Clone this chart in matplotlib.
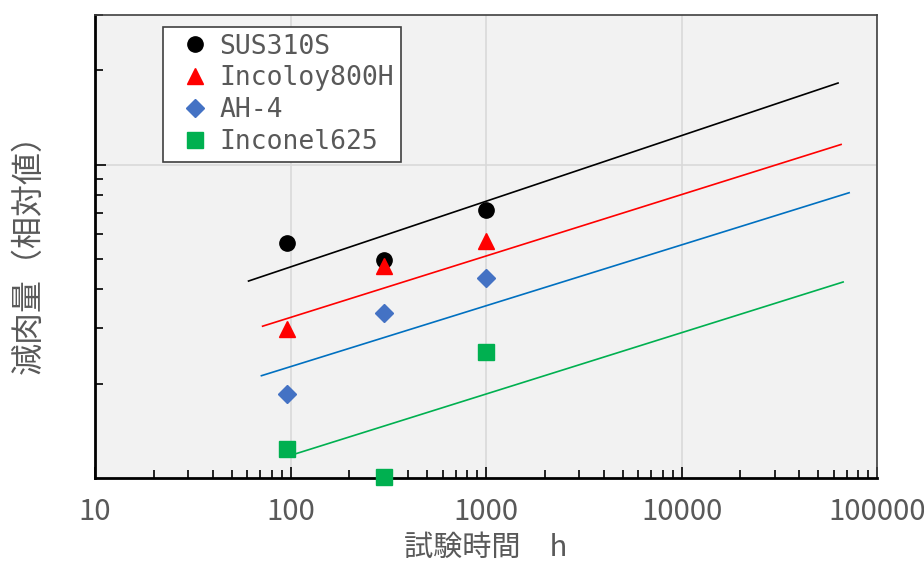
import matplotlib
matplotlib.use("Agg")
import matplotlib.pyplot as plt
from matplotlib.ticker import LogLocator, NullFormatter, FixedLocator

plt.rcParams["font.family"] = ["Noto Sans CJK JP", "DejaVu Sans"]

# measured points (test time h, relative wastage)
hours = [96, 300, 1000]
sus310s = [0.562, 0.496, 0.717]
incoloy800h = [0.298, 0.475, 0.571]
ah4 = [0.186, 0.336, 0.434]
inconel625 = [0.124, 0.1007, 0.253]

# fitted lines: (x start, x end), (y start, y end)
sus310s_fit_x = [61, 63200]
sus310s_fit_y = [0.425, 1.82]
incoloy800h_fit_x = [72, 65500]
incoloy800h_fit_y = [0.305, 1.159]
ah4_fit_x = [71, 72000]
ah4_fit_y = [0.212, 0.813]
inconel625_fit_x = [95.5, 67100]
inconel625_fit_y = [0.117, 0.422]

x_ticks = [10, 100, 1000, 10000, 100000]
x_ticklabels = ["10", "100", "1000", "10000", "100000"]

gray = "#595959"

fig = plt.figure(figsize=(9.24, 5.66), dpi=100)
ax = fig.add_axes([95 / 924, 1 - 478 / 566, (877 - 95) / 924, (478 - 15) / 566])
ax.set_facecolor("#f2f2f2")
ax.set_xscale("log")
ax.set_yscale("log")
ax.set_xlim(10, 100000)
ax.set_ylim(0.1, 3)

ax.plot(sus310s_fit_x, sus310s_fit_y, color="black", lw=1.2, zorder=3)
ax.plot(incoloy800h_fit_x, incoloy800h_fit_y, color="#ff0000", lw=1.2, zorder=3)
ax.plot(ah4_fit_x, ah4_fit_y, color="#0070c0", lw=1.2, zorder=3)
ax.plot(inconel625_fit_x, inconel625_fit_y, color="#00b050", lw=1.2, zorder=3)

kw = dict(linestyle="none", clip_on=False, zorder=4)
ax.plot(hours, sus310s, marker="o", ms=11, color="black", label="SUS310S", **kw)
ax.plot(hours, incoloy800h, marker="^", ms=11, color="#ff0000", label="Incoloy800H", **kw)
ax.plot(hours, ah4, marker="D", ms=9, color="#4472c4", label="AH-4", **kw)
ax.plot(hours, inconel625, marker="s", ms=11, color="#00b050", label="Inconel625", **kw)

ax.xaxis.set_major_locator(FixedLocator(x_ticks))
ax.set_xticklabels(x_ticklabels)
ax.xaxis.set_minor_locator(LogLocator(base=10, subs=range(2, 10)))
ax.xaxis.set_minor_formatter(NullFormatter())
ax.yaxis.set_major_locator(FixedLocator([1]))
ax.yaxis.set_minor_locator(LogLocator(base=10, subs=range(2, 10)))
ax.yaxis.set_major_formatter(NullFormatter())
ax.yaxis.set_minor_formatter(NullFormatter())

ax.grid(True, which="major", color="#d9d9d9", lw=1.2, zorder=0)
ax.set_axisbelow(True)
ax.tick_params(which="both", direction="in", color="black", width=1.2)
ax.tick_params(which="major", length=8, labelsize=21, labelcolor=gray, pad=14)
ax.tick_params(which="minor", length=6)

for s in ["left", "bottom"]:
    ax.spines[s].set_linewidth(2)
    ax.spines[s].set_color("black")
for s in ["top", "right"]:
    ax.spines[s].set_linewidth(1.2)
    ax.spines[s].set_color("#404040")

ax.set_xlabel("試験時間　h", fontsize=21, color=gray, labelpad=4)
ax.set_ylabel("減肉量（相対値）", fontsize=23, color=gray)
ax.yaxis.set_label_coords(-0.064, 0.50)

leg = ax.legend(loc="upper left", bbox_to_anchor=(68 / 782, 1 - 12 / 463),
                borderaxespad=0, frameon=True, fancybox=False,
                edgecolor="#404040", framealpha=1, facecolor="white",
                borderpad=0.25, labelspacing=0.22, handletextpad=0.0,
                handlelength=1.9,
                prop={"family": "DejaVu Sans Mono", "size": 19})
leg.get_frame().set_linewidth(1.2)
for t in leg.get_texts():
    t.set_color(gray)

fig.savefig("out.png", dpi=100)
